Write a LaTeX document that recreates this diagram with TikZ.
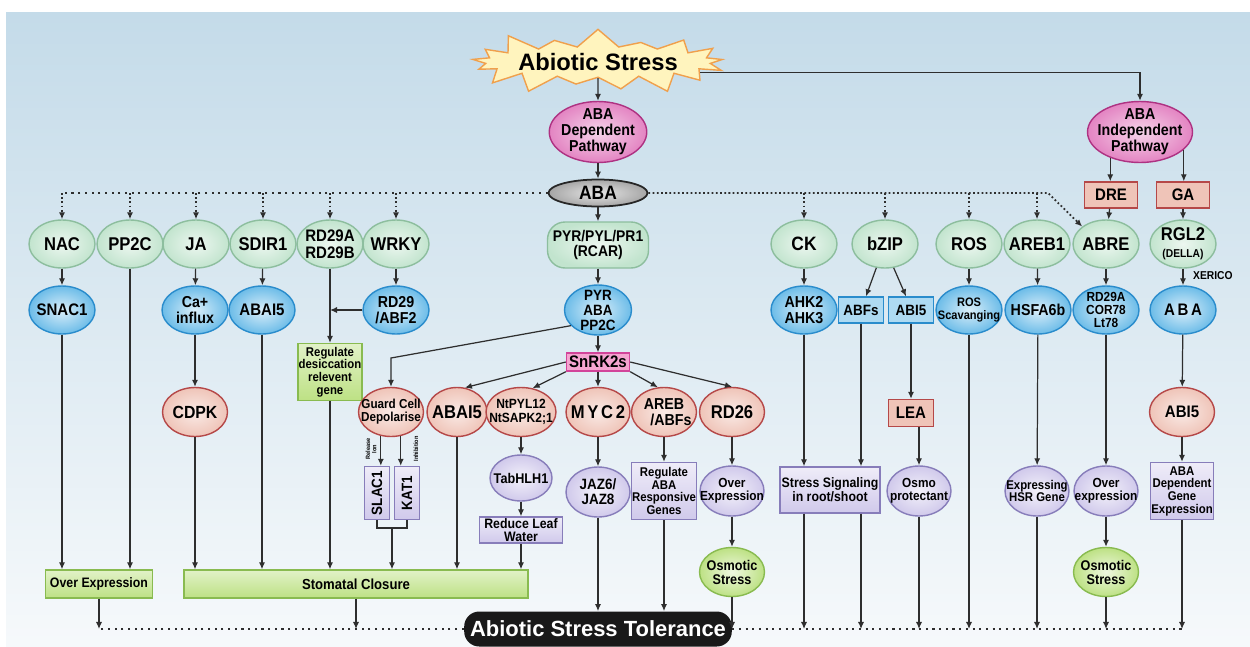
\documentclass[tikz,border=0pt]{standalone}
\usepackage{graphicx}
\usepackage{fontspec}
\setmainfont{Liberation Sans}[FakeStretch=0.9]
\newfontfamily\widefont{Liberation Sans}
\usepackage{tikz}
\usetikzlibrary{shapes.geometric,shapes.symbols,arrows.meta}

\definecolor{bgtop}{HTML}{C4DBE9}
\definecolor{bgbot}{HTML}{F6F9FB}
\definecolor{mint}{HTML}{C2E4CE}
\definecolor{mintd}{HTML}{8DBE9E}
\definecolor{sky}{HTML}{6CBCE8}
\definecolor{skyd}{HTML}{2A8CCC}
\definecolor{rose}{HTML}{EFC4B8}
\definecolor{rosed}{HTML}{B54848}
\definecolor{lav}{HTML}{D0C9EB}
\definecolor{lavd}{HTML}{877DBA}
\definecolor{lime}{HTML}{BDE184}
\definecolor{limed}{HTML}{89BB50}
\definecolor{pinkp}{HTML}{E384C2}
\definecolor{pinkd}{HTML}{AE3282}
\definecolor{snk}{HTML}{F5A4D0}
\definecolor{snkd}{HTML}{D2449A}
\definecolor{starf}{HTML}{FFF4BE}
\definecolor{starb}{HTML}{F0A04C}
\definecolor{lnk}{HTML}{2E2E2E}

\begin{document}
\begin{tikzpicture}[x=0.02cm, y=-0.02cm,
  fs/.style={font=\bfseries\fontsize{#1}{#1}\selectfont},
  oval/.style={ellipse, inner sep=-8pt, align=center, line width=0.8pt,
    minimum width=1.32cm, minimum height=0.96cm, fs=10.5},
  gell/.style={oval, draw=mintd, inner color=mint!30, outer color=mint},
  bell/.style={oval, draw=skyd, inner color=sky!25, outer color=sky},
  rell/.style={oval, draw=rosed, inner color=rose!35, outer color=rose,
    minimum width=1.3cm, minimum height=0.98cm},
  pell/.style={oval, draw=lavd, inner color=lav!25, outer color=lav,
    minimum width=1.28cm, minimum height=1cm, fs=7.5},
  lell/.style={oval, draw=limed, inner color=lime!25, outer color=lime,
    minimum width=1.3cm, minimum height=0.98cm, fs=8},
  mell/.style={oval, draw=pinkd, inner color=pinkp!35, outer color=pinkp,
    minimum width=1.95cm, minimum height=1.22cm, fs=9},
  box/.style={rectangle, inner sep=0pt, align=center, line width=0.8pt, fs=7.5},
  rbox/.style={box, draw=rosed, fill=rose, minimum width=1.06cm,
    minimum height=0.52cm, fs=9.5},
  bbox/.style={box, draw=skyd, fill=sky!55, minimum width=0.9cm,
    minimum height=0.52cm, fs=8.5},
  gbox/.style={box, draw=limed, top color=lime!45, bottom color=lime},
  pbox/.style={box, draw=lavd, top color=lav!35, bottom color=lav},
  arr/.style={-{Latex[length=4pt,width=3.5pt]}, line width=0.7pt, draw=lnk},
  dotarr/.style={arr, line width=1pt, dash pattern=on 1pt off 1.4pt},
  dotln/.style={line width=1.2pt, draw=lnk, dash pattern=on 1.2pt off 2.6pt}
]
\useasboundingbox (0,0) rectangle (1250,646);
\shade[top color=bgtop, bottom color=bgbot] (6,12) rectangle (1250,646);
% Stress and the two pathways
\node[starburst, starburst points=17, starburst point height=0.42cm,
  random starburst=60, draw=starb, fill=starf, line width=0.8pt,
  minimum width=4.2cm, minimum height=1.45cm, inner sep=0pt,
  font=\widefont\bfseries\fontsize{13.5}{13.5}\selectfont] (stress) at (598,62) {Abiotic Stress};
\node[mell] (dep) at (598,132) {ABA\\Dependent\\Pathway};
\node[mell, minimum width=2.1cm] (indep) at (1140,132) {ABA\\Independent\\Pathway};
\node[oval, draw=black!85, inner color=gray!20, outer color=gray!70,
  minimum width=1.98cm, minimum height=0.54cm, fs=11, line width=1pt] (aba) at (598,193) {ABA};
\node[rbox] (dre) at (1111,195) {DRE};
\node[rbox] (ga)  at (1183,195) {GA};
% Row 1
\node[gell] (nac)  at (62,244)  {NAC};
\node[gell] (pptc) at (130,244) {PP2C};
\node[gell] (ja)   at (196,244) {JA};
\node[gell] (sdir) at (263,244) {SDIR1};
\node[gell, fs=9.5] (rdab) at (330,244) {RD29A\\RD29B};
\node[gell] (wrky) at (396,244) {WRKY};
\node[box, draw=mintd, inner color=mint!30, outer color=mint, rounded corners=0.35cm,
  minimum width=2.02cm, minimum height=0.92cm, fs=8.8] (pyl) at (598,245) {PYR/PYL/PR1\\(RCAR)};
\node[gell, fs=11] (ck) at (804,244) {CK};
\node[gell] (bzip)    at (885,244)  {bZIP};
\node[gell] (ros)     at (969,244)  {ROS};
\node[gell] (arebone) at (1037,244) {AREB1};
\node[gell] (abre)    at (1106,244) {ABRE};
\node[gell] (rgl)     at (1183,244) {RGL2\\[-1pt]{\fontsize{6.5}{6.5}\selectfont(DELLA)}};
% Row 2
\node[bell, fs=9.5] (snac)  at (62,310)  {SNAC1};
\node[bell, fs=9]   (ca)    at (195,310) {Ca+\\influx};
\node[bell, fs=9.5] (abaib) at (262,310) {ABAI5};
\node[bell, fs=9]   (rdabf) at (396,310) {RD29\\/ABF2};
\node[bell, fs=8.5, minimum width=1.34cm, minimum height=1cm] (ppc) at (598,310) {PYR\\ABA\\PP2C};
\node[bell, fs=9]   (ahk)   at (804,310) {AHK2\\AHK3};
\node[bbox] (abfs) at (861,310) {ABFs};
\node[bbox] (abi)  at (911,310) {ABI5};
\node[bell, fs=7]   (rossc) at (969,310)  {ROS\\Scavanging};
\node[bell, fs=9]   (hsfa)  at (1038,310) {HSFA6b};
\node[bell, fs=7.5] (rdcor) at (1106,310) {RD29A\\COR78\\Lt78};
\node[bell, fs=9.5] (abab)  at (1183,310) {A\kern1.5pt B\kern1.5pt A};
\node[fs=6.5, anchor=west] (xer) at (1187,276) {XERICO};
\node[box, draw=snkd, fill=snk, minimum width=1.26cm, minimum height=0.36cm, fs=9.5] (snrk) at (598,362) {SnRK2s};
\node[gbox, minimum width=1.28cm, minimum height=1.14cm, fs=7.2] (regd) at (330,372) {Regulate\\desiccation\\relevent\\gene};
% Row 3
\node[rell, fs=10] (cdpk)  at (195,412) {CDPK};
\node[rell, fs=7.4] (guard) at (391,412) {Guard Cell\\Depolarise};
\node[rell, minimum width=1.2cm, fs=10.5] (abair) at (457,412) {ABAI5};
\node[rell, minimum width=1.4cm, fs=7.6] (ntpyl) at (521,412) {NtPYL12\\NtSAPK2;1};
\node[rell, minimum width=1.28cm, fs=10.5] (myc) at (598,412) {M\kern1.5pt Y\kern1.5pt C\kern1.5pt 2};
\node[rell, fs=9] (areb) at (664,412) {AREB\\\hspace*{8pt}/ABFs};
\node[rell, fs=10.5] (rd26) at (732,412) {RD26};
\node[rbox, minimum width=0.9cm, minimum height=0.54cm] (lea) at (911,413) {LEA};
\node[rell, fs=9.5] (abir) at (1182,412) {ABI5};
% Guard cell channels
\node[pbox, minimum width=0.5cm, minimum height=1.06cm, fs=8.5] (slac) at (377,493) {\rotatebox{90}{SLAC1}};
\node[pbox, minimum width=0.5cm, minimum height=1.06cm, fs=8.5] (kat)  at (407,493) {\rotatebox{90}{KAT1}};
\node[fs=3.5, align=center, rotate=90] (rel) at (371,449) {Release\\Ion};
\node[fs=3.5, rotate=90] (inh) at (416,449) {Inhibition};
\coordinate (br) at (392,528);
\coordinate (gk) at (391,358);
% Row 4
\node[pell, minimum width=1.24cm, minimum height=0.92cm, fs=8] (tab) at (521,478) {TabHLH1};
\node[pbox, minimum width=1.66cm, minimum height=0.52cm, fs=7.8] (leaf) at (521,530) {Reduce Leaf\\Water};
\node[pell, fs=8.5] (jaz) at (598,492) {JAZ6/\\JAZ8};
\node[pbox, minimum width=1.3cm, minimum height=1.14cm, fs=7.2] (resp) at (664,491) {Regulate\\ABA\\Responsive\\Genes};
\node[pell] (ovx1) at (732,491) {Over\\Expression};
\node[lell] (osm1) at (732,572) {Osmotic\\Stress};
\node[pbox, minimum width=2.0cm, minimum height=0.92cm, fs=7.8] (sig) at (830,490) {Stress Signaling\\in root/shoot};
\node[pell] (osmo) at (919,491) {Osmo\\protectant};
\node[pell, fs=7.2] (hsr) at (1037,491) {Expressing\\HSR Gene};
\node[pell] (ovx2) at (1106,491) {Over\\expression};
\node[lell] (osm2) at (1106,572) {Osmotic\\Stress};
\node[pbox, minimum width=1.26cm, minimum height=1.14cm, fs=7.2] (abadep) at (1182,491) {ABA\\Dependent\\Gene\\Expression};
% Outcomes
\node[gbox, minimum width=2.14cm, minimum height=0.56cm, fs=7.8] (over) at (99,584) {Over Expression};
\node[gbox, minimum width=6.88cm, minimum height=0.56cm, fs=8.3] (stom) at (356,584) {Stomatal Closure};
\node[rectangle, rounded corners=0.3cm, fill=black!90, text=white, minimum width=5.06cm,
  minimum height=0.7cm, font=\widefont\bfseries\fontsize{12.5}{12.5}\selectfont] (tol) at (598,629) {Abiotic Stress Tolerance};
% Top connectors
\draw[arr] (stress) -- (dep);
\draw[arr] (stress.-6) -| (indep.north);
\draw[arr] (dep) -- (aba);
\draw[arr] (indep.-139) -- (indep.-139 |- dre.north);
\draw[arr] (indep.-22) -- (indep.-22 |- ga.north);
\draw[dotln] (aba.west) -- (aba.west -| nac.north);
\coordinate (kink) at (1048,193);
\draw[dotarr] (aba.east) -- (kink) -- (abre.north west);
\foreach \n in {nac,pptc,ja,sdir,rdab,wrky,ck,bzip,ros,arebone}
  \draw[dotarr] (\n.north |- aba.center) -- (\n.north);
% Left branch
\draw[arr] (nac) -- (snac);
\draw[arr] (snac) -- (snac |- over.north);
\draw[arr] (pptc) -- (pptc |- over.north);
\draw[arr] (ja) -- (ca);
\draw[arr] (ca) -- (cdpk);
\draw[arr] (cdpk) -- (cdpk |- stom.north);
\draw[arr] (sdir) -- (abaib);
\draw[arr] (abaib) -- (abaib |- stom.north);
\draw[arr] (rdab) -- (regd);
\draw[arr] (rdabf.west) -- (rdabf.west -| rdab);
\draw[arr] (wrky) -- (rdabf);
\draw[arr] (regd) -- (regd |- stom.north);
% Core receptor branch
\draw[arr] (aba) -- (pyl);
\draw[arr] (pyl) -- (ppc);
\draw[arr] (ppc) -- (snrk);
\draw[arr] (ppc.-150) -- (gk) -- (guard);
\draw[arr] (snrk.west) -- (abair.72);
\draw[arr] (snrk.south west) -- (ntpyl.64);
\draw[arr] (snrk) -- (myc);
\draw[arr] (snrk.south east) -- (areb.104);
\draw[arr] (snrk.east) -- (rd26.north);
\draw[arr] (guard.-113) -- (guard.-113 |- slac.north);
\draw[arr] (guard.-68) -- (guard.-68 |- kat.north);
\draw[line width=0.7pt, draw=lnk] (slac.south) |- (br) -| (kat.south);
\draw[arr] (br) -- (br |- stom.north);
\draw[arr] (abair) -- (abair |- stom.north);
\draw[arr] (ntpyl) -- (tab);
\draw[arr] (tab) -- (leaf);
\draw[arr] (leaf) -- (leaf |- stom.north);
\draw[arr] (myc) -- (jaz);
\draw[arr] (jaz) -- (jaz |- tol.north);
\draw[arr] (areb) -- (resp);
\draw[arr] (resp) -- (resp |- tol.north);
\draw[arr] (rd26) -- (ovx1);
\draw[arr] (ovx1) -- (osm1);
\draw[arr] (osm1) -- (osm1 |- tol.east);
% Right branch
\draw[arr] (ck) -- (ahk);
\draw[arr] (ahk) -- (ahk |- sig.north);
\draw[arr] (bzip.-110) -- (abfs.70);
\draw[arr] (bzip.-70) -- (abi.110);
\draw[arr] (abfs) -- (abfs |- sig.north);
\draw[arr] (ahk |- sig.south) -- (ahk |- tol.east);
\draw[arr] (abfs |- sig.south) -- (abfs |- tol.east);
\draw[arr] (abi) -- (lea);
\draw[arr] (lea.south -| osmo) -- (osmo);
\draw[arr] (osmo) -- (osmo |- tol.east);
\draw[arr] (ros) -- (rossc);
\draw[arr] (rossc) -- (rossc |- tol.east);
\draw[arr] (arebone) -- (hsfa);
\draw[arr] (hsfa) -- (hsr);
\draw[arr] (hsr) -- (hsr |- tol.east);
\draw[arr] (dre) -- (abre);
\draw[arr] (abre) -- (rdcor);
\draw[arr] (rdcor) -- (ovx2);
\draw[arr] (ovx2) -- (osm2);
\draw[arr] (osm2) -- (osm2 |- tol.east);
\draw[arr] (ga) -- (rgl);
\draw[arr] (rgl) -- (abab);
\draw[arr] (abab) -- (abir);
\draw[arr] (abir) -- (abadep);
\draw[arr] (abadep) -- (abadep |- tol.east);
% Tolerance line
\draw[arr] (over) -- (over |- tol.west);
\draw[arr] (stom) -- (stom |- tol.west);
\draw[dotln] (tol.west) -- (tol.west -| over);
\draw[dotln] (tol.east) -- (tol.east -| abadep);
\end{tikzpicture}
\end{document}
